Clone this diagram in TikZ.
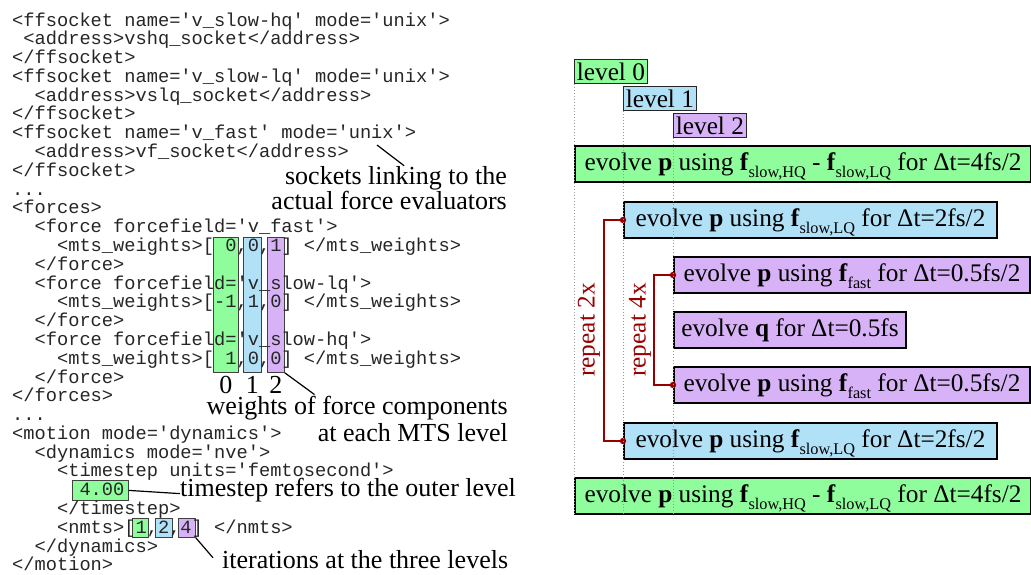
\documentclass[tikz,border=0pt]{standalone}
\usepackage{fontspec}
\setmainfont{Liberation Serif}
\setmonofont{Liberation Mono}
\definecolor{lvgreen}{RGB}{144,253,156}
\definecolor{lvblue}{RGB}{177,225,247}
\definecolor{lvpurple}{RGB}{215,178,246}
\definecolor{rdark}{RGB}{150,0,0}
\newcommand\codeline[3]{\node[codetxt] (L#1) at ({12+#2*11.22},{26+(#1-1)*18.79}) {#3};}
\newcommand\lsub[1]{\raisebox{-7pt}{\fontsize{16.3}{16}\selectfont #1}}
\begin{document}
\begin{tikzpicture}[x=1pt,y=-1pt,
  codetxt/.style={font=\fontsize{18.7}{18.79}\ttfamily, text=black!85, inner sep=0pt, anchor=base west},
  ann/.style={font=\fontsize{26}{25}\selectfont, inner sep=0pt},
  colbox/.style={draw=black!75, line width=0.8pt, inner sep=0pt, anchor=north west},
  pointer/.style={draw=black, line width=1.2pt},
  lvl/.style={draw=black!85, line width=0.8pt, anchor=north west, inner sep=0pt,
    minimum width=73pt, minimum height=24pt, text height=19pt, text depth=1pt,
    font=\fontsize{25.3}{26}\selectfont},
  stepbox/.style={draw=black, line width=2pt, anchor=north west, inner xsep=0pt, inner ysep=0pt,
    minimum height=36pt, text height=18pt, text depth=6pt,
    font=\fontsize{25.3}{26}\selectfont},
  rep/.style={draw=rdark, line width=1.5pt},
  reptxt/.style={text=rdark, inner sep=0pt, font=\fontsize{25.3}{26}\selectfont},
  guide/.style={draw=black!40, dotted, line width=1pt}
]
\useasboundingbox (0,0) rectangle (1031,574);

% ---------- highlight boxes (behind the code) ----------
\node[colbox, fill=lvgreen,  minimum width=25pt, minimum height=135pt] (c0) at (213,237) {};
\node[colbox, fill=lvblue,   minimum width=18pt, minimum height=135pt] (c1) at (243,237) {};
\node[colbox, fill=lvpurple, minimum width=17pt, minimum height=135pt] (c2) at (267,237) {};
\node[colbox, fill=lvgreen,  minimum width=56pt, minimum height=20pt] (ts) at (72,480) {};
\node[colbox, fill=lvgreen,  minimum width=16pt, minimum height=19pt] (n1) at (132,518) {};
\node[colbox, fill=lvblue,   minimum width=17pt, minimum height=19pt] (n2) at (155,518) {};
\node[colbox, fill=lvpurple, minimum width=17pt, minimum height=19pt] (n4) at (178,518) {};

% ---------- code listing ----------
\codeline{1}{0}{<ffsocket name='v\_slow-hq' mode='unix'>}
\codeline{2}{1}{<address>vshq\_socket</address>}
\codeline{3}{0}{</ffsocket>}
\codeline{4}{0}{<ffsocket name='v\_slow-lq' mode='unix'>}
\codeline{5}{2}{<address>vslq\_socket</address>}
\codeline{6}{0}{</ffsocket>}
\codeline{7}{0}{<ffsocket name='v\_fast' mode='unix'>}
\codeline{8}{2}{<address>vf\_socket</address>}
\codeline{9}{0}{</ffsocket>}
\codeline{10}{0}{...}
\codeline{11}{0}{<forces>}
\codeline{12}{2}{<force forcefield='v\_fast'>}
\codeline{13}{4}{<mts\_weights>[ 0,0,1] </mts\_weights>}
\codeline{14}{2}{</force>}
\codeline{15}{2}{<force forcefield='v\_slow-lq'>}
\codeline{16}{4}{<mts\_weights>[-1,1,0] </mts\_weights>}
\codeline{17}{2}{</force>}
\codeline{18}{2}{<force forcefield='v\_slow-hq'>}
\codeline{19}{4}{<mts\_weights>[ 1,0,0] </mts\_weights>}
\codeline{20}{2}{</force>}
\codeline{21}{0}{</forces>}
\codeline{22}{0}{...}
\codeline{23}{0}{<motion mode='dynamics'>}
\codeline{24}{2}{<dynamics mode='nve'>}
\codeline{25}{4}{<timestep units='femtosecond'>}
\codeline{26}{6}{4.00}
\codeline{27}{4}{</timestep>}
\codeline{28}{4}{<nmts>[1,2,4] </nmts>}
\codeline{29}{2}{</dynamics>}
\codeline{30}{0}{</motion>}

% ---------- annotations ----------
\node[ann, anchor=base] (k0) at ([yshift=-21pt]c0.south) {0};
\node[ann, anchor=base] (k1) at ([yshift=-21pt]c1.south) {1};
\node[ann, anchor=base] (k2) at ([yshift=-21pt]c2.south) {2};

\node[ann, anchor=base east] (sock) at (507,184)
  {\begin{tabular}[t]{@{}r@{}}sockets linking to the\\actual force evaluators\end{tabular}};
\node[ann, anchor=base east, font=\fontsize{26}{27.5}\selectfont] (wl) at (508,414)
  {\begin{tabular}[t]{@{}r@{}}weights of force components\\at each MTS level\end{tabular}};
\node[ann, anchor=base west] (tsl) at (180,496) {timestep refers to the outer level};
\node[ann, anchor=base west] (itl) at (222,568) {iterations at the three levels};

\coordinate (sk) at (377,145);
\draw[pointer] (sk) -- ([xshift=15pt]sock.north);
\draw[pointer] (c2.south east) -- ([xshift=108pt]wl.north west);
\draw[pointer] (ts.east) -- ([yshift=-4pt]tsl.west);
\draw[pointer] (n4.south east) -- ([xshift=-9pt,yshift=-8pt]itl.north west);

% ---------- MTS scheme ----------
\node[lvl, fill=lvgreen]  (l0) at (574,59)  {level 0};
\node[lvl, fill=lvblue]   (l1) at (623,86)  {level 1};
\node[lvl, fill=lvpurple] (l2) at (673,113) {level 2};

\node[stepbox, fill=lvgreen,  minimum width=456pt] (g1) at (574,145)
  {evolve \textbf{p} using \textbf{f}\lsub{slow,HQ} - \textbf{f}\lsub{slow,LQ} for Δt=4fs/2};
\node[stepbox, fill=lvblue,   minimum width=373pt] (b1) at (623,201)
  {evolve \textbf{p} using \textbf{f}\lsub{slow,LQ} for Δt=2fs/2};
\node[stepbox, fill=lvpurple, minimum width=356pt] (p1) at (673,256)
  {evolve \textbf{p} using \textbf{f}\lsub{fast} for Δt=0.5fs/2};
\node[stepbox, fill=lvpurple, minimum width=232pt] (pq) at (673,311)
  {evolve \textbf{q} for Δt=0.5fs};
\node[stepbox, fill=lvpurple, minimum width=356pt] (p3) at (673,366)
  {evolve \textbf{p} using \textbf{f}\lsub{fast} for Δt=0.5fs/2};
\node[stepbox, fill=lvblue,   minimum width=373pt] (b2) at (623,422)
  {evolve \textbf{p} using \textbf{f}\lsub{slow,LQ} for Δt=2fs/2};
\node[stepbox, fill=lvgreen,  minimum width=456pt] (g2) at (574,477)
  {evolve \textbf{p} using \textbf{f}\lsub{slow,HQ} - \textbf{f}\lsub{slow,LQ} for Δt=4fs/2};

\draw[rep] (b1.west) -- ++(-19,0) |- (b2.west);
\draw[rep] (p1.west) -- ++(-19,0) |- (p3.west);
\fill[rdark] (b1.west) circle[radius=3.2pt];
\fill[rdark] (b2.west) circle[radius=3.2pt];
\fill[rdark] (p1.west) circle[radius=3.2pt];
\fill[rdark] (p3.west) circle[radius=3.2pt];
\node[reptxt, rotate=90] (r2) at (589,330) {repeat 2x};
\node[reptxt, rotate=90] (r4) at (640,330) {repeat 4x};

\draw[guide] (l0.south west) -- (l0.south west |- g2.south);
\draw[guide] (l1.south west) -- (l1.south west |- g2.south);
\draw[guide] (l2.south west) -- (l2.south west |- g2.south);
\end{tikzpicture}
\end{document}
